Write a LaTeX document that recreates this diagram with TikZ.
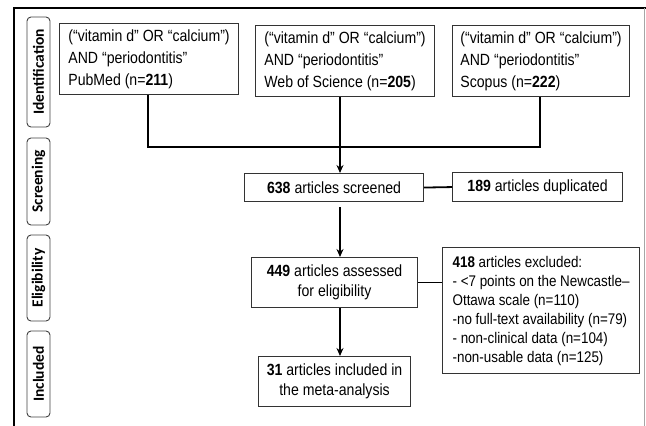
\documentclass[tikz,border=0pt]{standalone}
\usepackage{fontspec}
\setmainfont{Liberation Sans}[FakeStretch=0.87]
\newfontfamily\labfont{Carlito}
\usetikzlibrary{arrows.meta}
\begin{document}
\begin{tikzpicture}[x=1bp,y=-1bp,
  box/.style={draw=black!80,line width=1.1bp,fill=white,rectangle,inner sep=0pt,
    font=\fontsize{16.2bp}{22bp}\selectfont},
  stagebox/.style={draw=black!75,line width=0.9bp,rounded corners=4bp,rotate=90,
    minimum height=23bp,inner sep=0pt,font=\labfont\bfseries\fontsize{15.5bp}{16bp}\selectfont},
  conn/.style={line width=1.8bp,black},
  arr/.style={conn,-{Stealth[length=8bp,width=7bp]}}]
\useasboundingbox (0,0) rectangle (646,425);
% frame
\draw[line width=2.4bp,black] (14,426) -- (14,8) -- (647,8);
\draw[line width=0.8bp,black!35] (644,8) -- (644,426);
% stage labels
\node[stagebox,minimum width=110bp] (sid) at (38.5,72) {Identification};
\node[stagebox,minimum width=87bp] (sscr) at (38.5,181.5) {Screening};
\node[stagebox,minimum width=86bp] (selig) at (38.5,278) {Eligibility};
\node[stagebox,minimum width=86bp] (sinc) at (38.5,374) {Included};
% top boxes
\node[box,anchor=north west,minimum width=179bp,minimum height=71bp,align=left] (pub) at (59,23)
  {(“vitamin d” OR “calcium”)\\AND “periodontitis”\\PubMed (n=\textbf{211})};
\node[box,anchor=north west,minimum width=179bp,minimum height=71bp,align=left] (wos) at (255,25)
  {(“vitamin d” OR “calcium”)\\AND “periodontitis”\\Web of Science (n=\textbf{205})};
\node[box,anchor=north west,minimum width=177bp,minimum height=71bp,align=left] (sco) at (452,25)
  {(“vitamin d” OR “calcium”)\\AND “periodontitis”\\Scopus (n=\textbf{222})};
% screening
\node[box,anchor=north west,minimum width=179bp,minimum height=28bp] (scr) at (244,173)
  {\textbf{638} articles screened};
\node[box,anchor=north west,minimum width=170bp,minimum height=29bp] (dup) at (452,172)
  {\textbf{189} articles duplicated};
% eligibility
\node[box,anchor=north west,minimum width=166bp,minimum height=50bp,align=center,
  font=\fontsize{16.2bp}{20bp}\selectfont] (eli) at (251,257)
  {\textbf{449} articles assessed\\for eligibility};
\node[box,anchor=north west,minimum width=197bp,minimum height=126bp,align=left,
  font=\fontsize{15.4bp}{19bp}\selectfont] (exc) at (442,247)
  {\textbf{418} articles excluded:\\- <7 points on the Newcastle–\\Ottawa scale (n=110)\\-no full-text availability (n=79)\\- non-clinical data (n=104)\\-non-usable data (n=125)};
% included
\node[box,anchor=north west,minimum width=152bp,minimum height=50bp,align=center,
  font=\fontsize{16.2bp}{20bp}\selectfont] (inc) at (258,356)
  {\textbf{31} articles included in\\the meta-analysis};
% connectors
\coordinate (jr) at (540,147);
\draw[conn] (pub.south -| 148,0) -- (148,147) -- (jr) -- (sco.south -| jr);
\draw[arr] (wos.south -| 340,0) -- (scr.north -| 340,0);
\draw[conn] (scr.east) -- (dup.west);
\draw[arr,shorten <=5bp] (scr.south -| 340,0) -- (eli.north -| 340,0);
\draw[conn] (eli.east) -- (exc.west |- eli.east);
\draw[arr] (eli.south -| 340,0) -- (inc.north -| 340,0);
\end{tikzpicture}
\end{document}
